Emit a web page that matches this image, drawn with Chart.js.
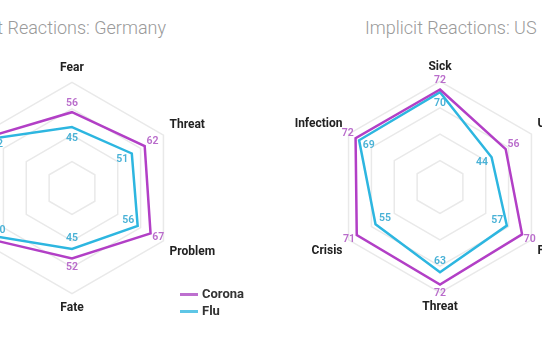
<!DOCTYPE html>
<html lang="en">
<head>
    <meta charset="UTF-8" />
    <script src="https://cdn.jsdelivr.net/npm/chart.js"></script>
    <title>Implicit Reactions</title>
    <style>
        html, body { margin: 0; padding: 0; background: #fff; }
        body { width: 542px; height: 340px; position: relative; overflow: hidden; font-family: Roboto, "Noto Sans", sans-serif; }
        canvas { position: absolute; }
        .titulo { position: absolute; top: 17px; font-size: 18px; font-weight: 300; color: #9a9a9a; white-space: nowrap; }
        .legenda { position: absolute; left: 180px; font-size: 13px; font-weight: 700; color: #333; line-height: 16px; }
        .legenda span { display: inline-block; width: 18px; height: 3px; vertical-align: middle; margin-right: 4px; }
    </style>
</head>
<body>
    <div class="titulo" style="left:-200px; width:366px; text-align:right;">Implicit Reactions: Germany</div>
    <div class="titulo" style="left:365px;">Implicit Reactions: US</div>

    <canvas id="graficoAlemanha" width="400" height="254" style="left:-128px; top:61px;"></canvas>
    <canvas id="graficoEUA" width="400" height="254" style="left:240px; top:60px;"></canvas>

    <div class="legenda" style="top:286px;"><span style="background:#bd6fcf"></span>Corona</div>
    <div class="legenda" style="top:303px;"><span style="background:#5ec6e6"></span>Flu</div>

<script>
// Germany (left two labels are cut off in the picture)
var labelsAlemanha = ["Fear", "Threat", "Problem", "Fate", "Crisis", "Danger"];
var coronaAlemanha = [56, 62, 67, 52, 74, 74];
var fluAlemanha = [45, 51, 56, 45, 70, 72];

// US
var labelsEUA = ["Sick", "Uncertainty", "Fear", "Threat", "Crisis", "Infection"];
var coronaEUA = [72, 56, 70, 72, 71, 72];
var fluEUA = [70, 44, 57, 63, 55, 69];

var corCorona = "#b23fc6";
var corFlu = "#2db6e0";
var corTextoCorona = "#b96ccb";
var corTextoFlu = "#48b1d6";

// values written next to each vertex: Corona outside, Flu inside
var valoresPlugin = {
    id: "valores",
    afterDatasetsDraw: function (chart) {
        var scale = chart.scales.r;
        var ctx = chart.ctx;
        ctx.save();
        ctx.font = "600 10.5px Roboto, sans-serif";
        ctx.textAlign = "center";
        ctx.textBaseline = "middle";
        chart.data.datasets.forEach(function (ds, i) {
            ctx.fillStyle = i == 0 ? corTextoCorona : corTextoFlu;
            ds.data.forEach(function (v, j) {
                var d = scale.getDistanceFromCenterForValue(v);
                var p = scale.getPointPosition(j, i == 0 ? d + 9 : d - 11);
                ctx.fillText(v, p.x, p.y);
            });
        });
        ctx.restore();
    }
};

function criarGrafico(id, labels, corona, flu) {
    var ctx = document.getElementById(id);
    return new Chart(ctx, {
        type: "radar",
        data: {
            labels: labels,
            datasets: [
                { label: "Corona", data: corona, borderColor: corCorona, borderWidth: 2.5, fill: false, pointRadius: 0 },
                { label: "Flu", data: flu, borderColor: corFlu, borderWidth: 2.5, fill: false, pointRadius: 0 }
            ]
        },
        options: {
            responsive: false,
            animation: false,
            plugins: { legend: { display: false }, tooltip: { enabled: false } },
            scales: {
                r: {
                    min: 0,
                    max: 78,
                    ticks: { display: false, stepSize: 19.5 },
                    grid: { color: "#e9e9e9", lineWidth: 1.5 },
                    angleLines: { display: false },
                    pointLabels: {
                        padding: 7,
                        color: "#222",
                        font: { family: "Roboto, sans-serif", size: 12, weight: "bold" }
                    }
                }
            }
        },
        plugins: [valoresPlugin]
    });
}

criarGrafico("graficoAlemanha", labelsAlemanha, coronaAlemanha, fluAlemanha);
criarGrafico("graficoEUA", labelsEUA, coronaEUA, fluEUA);
</script>
</body>
</html>
